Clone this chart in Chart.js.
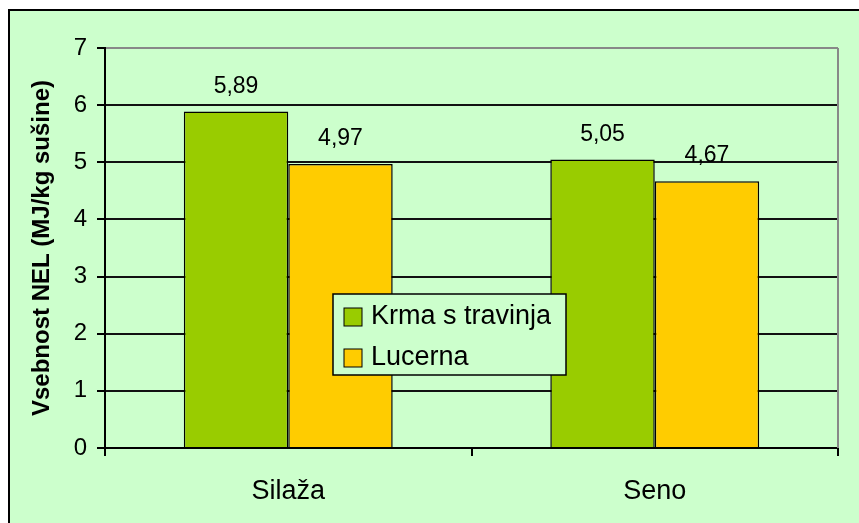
<!DOCTYPE html>
<html>
<head>
<meta charset="utf-8">
<script src="https://cdn.jsdelivr.net/npm/chart.js@4/dist/chart.umd.min.js"></script>
<style>
  body { margin: 0; background: #fff; }
  canvas { display: block; }
</style>
</head>
<body>
<canvas id="nelChart" width="859" height="523"></canvas>
<script>
const categories = ['Silaža', 'Seno'];
const krmaValues = [5.89, 5.05];
const lucernaValues = [4.97, 4.67];
const seriesNames = ['Krma s travinja', 'Lucerna'];
const seriesColors = ['#99CC00', '#FFCC00'];
const yTitle = 'Vsebnost NEL (MJ/kg sušine)';

const FONT = '"Liberation Sans", Arial, sans-serif';
const BG = '#CCFFCC';

// ozadje in okvir
const backgroundPlugin = {
    id: 'background',
    beforeDraw(chart) {
        const ctx = chart.ctx;
        ctx.save();
        ctx.fillStyle = '#fff';
        ctx.fillRect(0, 0, chart.width, chart.height);
        ctx.fillStyle = BG;
        ctx.fillRect(9, 10, chart.width, chart.height);
        ctx.strokeStyle = '#000';
        ctx.lineWidth = 2;
        ctx.beginPath();
        ctx.moveTo(9, chart.height);
        ctx.lineTo(9, 10);
        ctx.lineTo(chart.width, 10);
        ctx.stroke();
        ctx.restore();
    },
    beforeDatasetsDraw(chart) {
        const ctx = chart.ctx;
        const a = chart.chartArea;
        ctx.save();
        ctx.strokeStyle = '#888';
        ctx.lineWidth = 2;
        ctx.beginPath();
        ctx.moveTo(a.right, a.top);
        ctx.lineTo(a.right, a.bottom);
        ctx.stroke();
        ctx.restore();
    }
};

// vrednosti nad stolpci
const valueLabels = {
    id: 'valueLabels',
    afterDatasetsDraw(chart) {
        const ctx = chart.ctx;
        ctx.save();
        ctx.font = '23px ' + FONT;
        ctx.fillStyle = '#000';
        ctx.textAlign = 'center';
        ctx.textBaseline = 'middle';
        chart.data.datasets.forEach((ds, i) => {
            chart.getDatasetMeta(i).data.forEach((bar, j) => {
                const txt = ds.data[j].toFixed(2).replace('.', ',');
                ctx.fillText(txt, bar.x, bar.y - 25);
            });
        });
        ctx.restore();
    }
};

// legenda sredi grafa
const boxLegend = {
    id: 'boxLegend',
    afterDraw(chart) {
        const ctx = chart.ctx;
        ctx.save();
        ctx.fillStyle = BG;
        ctx.strokeStyle = '#000';
        ctx.lineWidth = 1.5;
        ctx.fillRect(333, 294, 233, 81);
        ctx.strokeRect(333, 294, 233, 81);
        ctx.font = '27px ' + FONT;
        ctx.textBaseline = 'middle';
        ctx.textAlign = 'left';
        chart.data.datasets.forEach((ds, i) => {
            const y = 317 + i * 41;
            ctx.fillStyle = ds.backgroundColor;
            ctx.fillRect(344, y - 9, 18, 18);
            ctx.lineWidth = 1;
            ctx.strokeRect(344, y - 9, 18, 18);
            ctx.fillStyle = '#000';
            ctx.fillText(ds.label, 371, y);
        });
        ctx.restore();
    }
};

new Chart(document.getElementById('nelChart'), {
    type: 'bar',
    data: {
        labels: categories,
        datasets: [{
            label: seriesNames[0],
            data: krmaValues,
            backgroundColor: seriesColors[0],
            borderColor: '#000',
            borderWidth: 1.5,
            categoryPercentage: 0.57,
            barPercentage: 1
        }, {
            label: seriesNames[1],
            data: lucernaValues,
            backgroundColor: seriesColors[1],
            borderColor: '#000',
            borderWidth: 1.5,
            categoryPercentage: 0.57,
            barPercentage: 1
        }]
    },
    options: {
        responsive: false,
        animation: false,
        layout: {
            padding: { left: 0, right: 21, top: 48, bottom: 0 }
        },
        plugins: {
            legend: { display: false },
            tooltip: { enabled: false }
        },
        scales: {
            x: {
                afterFit: function(scale) { scale.height = 75; },
                grid: {
                    drawOnChartArea: false,
                    drawTicks: true,
                    tickLength: 8,
                    color: '#000',
                    lineWidth: 2
                },
                border: { display: true, color: '#000', width: 2 },
                ticks: {
                    font: { family: FONT, size: 27 },
                    color: '#000',
                    padding: 19
                }
            },
            y: {
                min: 0,
                max: 7,
                afterFit: function(scale) { scale.width = 105; },
                grid: {
                    color: function(c) { return c.tick && c.tick.value === 7 ? '#888' : '#111'; },
                    tickColor: '#000',
                    lineWidth: 2,
                    tickLength: 8
                },
                border: { display: true, color: '#000', width: 2 },
                ticks: {
                    stepSize: 1,
                    font: { family: FONT, size: 24 },
                    color: '#000',
                    padding: 10
                },
                title: {
                    display: true,
                    text: yTitle,
                    font: { family: FONT, size: 24, weight: 'bold' },
                    color: '#000',
                    padding: { top: 28, bottom: 0 }
                }
            }
        }
    },
    plugins: [backgroundPlugin, valueLabels, boxLegend]
});
</script>
</body>
</html>
